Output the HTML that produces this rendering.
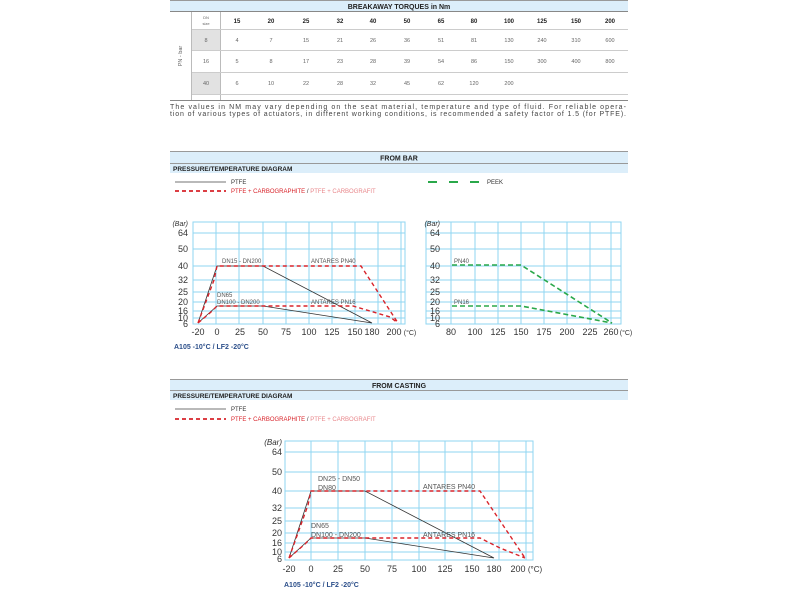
<!DOCTYPE html>
<html><head><meta charset="utf-8"><style>
html,body{margin:0;padding:0;background:#fff}
svg{display:block}
text{font-family:"Liberation Sans",sans-serif}
.g{stroke:#8fd6f2;stroke-width:1;fill:none}
.k{stroke:#333;stroke-width:0.8;fill:none}
.r{stroke:#d8232a;stroke-width:1.4;fill:none;stroke-dasharray:4,3}
.gr{stroke:#2aa84a;stroke-width:1.6;fill:none;stroke-dasharray:5,3}
.ax{font-size:9px;fill:#333}
.lb{font-size:6px;fill:#555}
.tn{font-size:5.5px;fill:#666;text-anchor:middle}
.th{font-size:6px;fill:#222;text-anchor:middle;font-weight:bold}
.hd{font-size:7px;font-weight:bold;fill:#222}
</style></head><body>
<svg width="800" height="600" viewBox="0 0 800 600" xmlns="http://www.w3.org/2000/svg">
<!-- TABLE -->
<line x1="170" y1="0.5" x2="628" y2="0.5" stroke="#999" stroke-width="1"/>
<rect x="170" y="1" width="458" height="10" fill="#dceefa"/>
<text x="399" y="9" class="hd" text-anchor="middle">BREAKAWAY TORQUES in Nm</text>
<line x1="170" y1="11.5" x2="628" y2="11.5" stroke="#888"/>
<rect x="192" y="29" width="28" height="21" fill="#e2e2e2"/>
<rect x="192" y="72" width="28" height="22" fill="#e2e2e2"/>
<line x1="191.5" y1="12" x2="191.5" y2="100" stroke="#bbb"/>
<line x1="220.5" y1="12" x2="220.5" y2="100" stroke="#bbb"/>
<line x1="192" y1="29.5" x2="628" y2="29.5" stroke="#ccc"/>
<line x1="192" y1="50.5" x2="628" y2="50.5" stroke="#ccc"/>
<line x1="192" y1="72.5" x2="628" y2="72.5" stroke="#ccc"/>
<line x1="192" y1="94.5" x2="628" y2="94.5" stroke="#ccc"/>
<line x1="170" y1="100.5" x2="628" y2="100.5" stroke="#888"/>
<text x="206" y="19" class="tn" style="font-size:4px">DN</text>
<text x="206" y="25" class="tn" style="font-size:4px">size</text>
<text transform="translate(182,56) rotate(-90)" class="tn">PN - bar</text>
<g class="th">
<text x="237" y="23">15</text><text x="271" y="23">20</text><text x="306" y="23">25</text><text x="340" y="23">32</text><text x="373" y="23">40</text><text x="407" y="23">50</text><text x="441" y="23">65</text><text x="474" y="23">80</text><text x="509" y="23">100</text><text x="542" y="23">125</text><text x="576" y="23">150</text><text x="610" y="23">200</text>
</g>
<g class="tn">
<text x="206" y="42">8</text><text x="237" y="42">4</text><text x="271" y="42">7</text><text x="306" y="42">15</text><text x="340" y="42">21</text><text x="373" y="42">26</text><text x="407" y="42">36</text><text x="441" y="42">51</text><text x="474" y="42">81</text><text x="509" y="42">130</text><text x="542" y="42">240</text><text x="576" y="42">310</text><text x="610" y="42">600</text>
<text x="206" y="63">16</text><text x="237" y="63">5</text><text x="271" y="63">8</text><text x="306" y="63">17</text><text x="340" y="63">23</text><text x="373" y="63">28</text><text x="407" y="63">39</text><text x="441" y="63">54</text><text x="474" y="63">86</text><text x="509" y="63">150</text><text x="542" y="63">300</text><text x="576" y="63">400</text><text x="610" y="63">800</text>
<text x="206" y="85">40</text><text x="237" y="85">6</text><text x="271" y="85">10</text><text x="306" y="85">22</text><text x="340" y="85">28</text><text x="373" y="85">32</text><text x="407" y="85">45</text><text x="441" y="85">62</text><text x="474" y="85">120</text><text x="509" y="85">200</text>
</g>
<text x="170" y="109" style="font-size:7px;fill:#444" textLength="456" lengthAdjust="spacing">The values in NM may vary depending on the seat material, temperature and type of fluid. For reliable opera-</text>
<text x="170" y="116" style="font-size:7px;fill:#444" textLength="456" lengthAdjust="spacing">tion of various types of actuators, in different working conditions, is recommended a safety factor of 1.5 (for PTFE).</text>

<!-- FROM BAR -->
<line x1="170" y1="151.5" x2="628" y2="151.5" stroke="#999"/>
<rect x="170" y="152" width="458" height="11" fill="#dceefa"/>
<text x="399" y="160.5" class="hd" text-anchor="middle">FROM BAR</text>
<line x1="170" y1="163.5" x2="628" y2="163.5" stroke="#999"/>
<rect x="170" y="164" width="458" height="9" fill="#dceefa"/>
<text x="173" y="171" class="hd" style="font-size:6.5px">PRESSURE/TEMPERATURE DIAGRAM</text>
<line x1="175" y1="182" x2="226" y2="182" stroke="#444" stroke-width="0.8"/>
<text x="231" y="184" style="font-size:6px;fill:#333">PTFE</text>
<line x1="175" y1="191" x2="226" y2="191" class="r" style="stroke-width:1.8"/>
<text x="231" y="193" style="font-size:6px;fill:#d8232a">PTFE + CARBOGRAPHITE <tspan fill="#333">/</tspan> <tspan fill="#e8878b">PTFE + CARBOGRAFIT</tspan></text>
<line x1="428" y1="182" x2="482" y2="182" class="gr" style="stroke-dasharray:9,12;stroke-width:2"/>
<text x="487" y="184" style="font-size:6px;fill:#333">PEEK</text>

<!-- chart1 grid -->
<g class="g">
<rect x="193" y="222" width="212" height="102"/>
<path d="M216 222V324M239 222V324M263 222V324M286 222V324M309 222V324M332 222V324M355 222V324M378 222V324M401 222V324"/>
<path d="M193 233H405M193 249H405M193 266H405M193 280H405M193 292H405M193 302H405M193 311H405M193 318H405"/>
</g>
<g class="ax" text-anchor="end">
<text x="188" y="226" style="font-style:italic;font-size:7px">(Bar)</text>
<text x="188" y="236">64</text><text x="188" y="252">50</text><text x="188" y="269">40</text><text x="188" y="283">32</text><text x="188" y="295">25</text><text x="188" y="305">20</text><text x="188" y="314">16</text><text x="188" y="321">10</text><text x="188" y="327">6</text>
</g>
<g class="ax" text-anchor="middle">
<text x="198" y="335">-20</text><text x="217" y="335">0</text><text x="240" y="335">25</text><text x="263" y="335">50</text><text x="286" y="335">75</text><text x="309" y="335">100</text><text x="332" y="335">125</text><text x="355" y="335">150</text><text x="372" y="335">180</text><text x="394" y="335">200</text><text x="410" y="335" style="font-size:7px">(°C)</text>
</g>
<path class="k" d="M198 323L217 266H263L372 323M198 323L217 306H263L372 323"/>
<path class="r" d="M198 323L214 280L217 266H361L398 323M198 323L211 312L217 306H353L390 317L398 323"/>
<g class="lb">
<text x="222" y="263">DN15 - DN200</text><text x="311" y="263">ANTARES PN40</text>
<text x="217" y="297">DN65</text><text x="217" y="304">DN100 - DN200</text><text x="311" y="304">ANTARES PN16</text>
</g>
<text x="174" y="349" style="font-size:7px;font-weight:bold;fill:#2c4f8a">A105 -10°C  /  LF2 -20°C</text>

<!-- chart2 -->
<g class="g">
<rect x="426" y="222" width="195" height="102"/>
<path d="M451 222V324M475 222V324M498 222V324M521 222V324M544 222V324M567 222V324M590 222V324M611 222V324"/>
<path d="M426 233H621M426 249H621M426 266H621M426 280H621M426 292H621M426 302H621M426 311H621M426 318H621"/>
</g>
<g class="ax" text-anchor="end">
<text x="440" y="226" style="font-style:italic;font-size:7px">(Bar)</text>
<text x="440" y="236">64</text><text x="440" y="252">50</text><text x="440" y="269">40</text><text x="440" y="283">32</text><text x="440" y="295">25</text><text x="440" y="305">20</text><text x="440" y="314">16</text><text x="440" y="321">10</text><text x="440" y="327">6</text>
</g>
<g class="ax" text-anchor="middle">
<text x="451" y="335">80</text><text x="475" y="335">100</text><text x="498" y="335">125</text><text x="521" y="335">150</text><text x="544" y="335">175</text><text x="567" y="335">200</text><text x="590" y="335">225</text><text x="611" y="335">260</text><text x="626" y="335" style="font-size:7px">(°C)</text>
</g>
<path class="gr" d="M452 265H521L612 323M452 306H521L612 323"/>
<text x="454" y="263" class="lb">PN40</text><text x="454" y="304" class="lb">PN16</text>

<!-- FROM CASTING -->
<line x1="170" y1="379.5" x2="628" y2="379.5" stroke="#999"/>
<rect x="170" y="380" width="458" height="10" fill="#dceefa"/>
<text x="399" y="388" class="hd" text-anchor="middle">FROM CASTING</text>
<line x1="170" y1="390.5" x2="628" y2="390.5" stroke="#999"/>
<rect x="170" y="391" width="458" height="9" fill="#dceefa"/>
<text x="173" y="398" class="hd" style="font-size:6.5px">PRESSURE/TEMPERATURE DIAGRAM</text>
<line x1="175" y1="409" x2="226" y2="409" stroke="#444" stroke-width="0.8"/>
<text x="231" y="411" style="font-size:6px;fill:#333">PTFE</text>
<line x1="175" y1="419" x2="226" y2="419" class="r" style="stroke-width:1.8"/>
<text x="231" y="421" style="font-size:6px;fill:#d8232a">PTFE + CARBOGRAPHITE <tspan fill="#333">/</tspan> <tspan fill="#e8878b">PTFE + CARBOGRAFIT</tspan></text>

<g class="g">
<rect x="285" y="441" width="248" height="119"/>
<path d="M311 441V560M338 441V560M365 441V560M392 441V560M419 441V560M445 441V560M472 441V560M499 441V560M526 441V560"/>
<path d="M285 452H533M285 472H533M285 491H533M285 508H533M285 521H533M285 533H533M285 543H533M285 552H533"/>
</g>
<g class="ax" text-anchor="end" style="font-size:9px">
<text x="282" y="445" style="font-style:italic;font-size:8px">(Bar)</text>
<text x="282" y="455">64</text><text x="282" y="475">50</text><text x="282" y="494">40</text><text x="282" y="511">32</text><text x="282" y="524">25</text><text x="282" y="536">20</text><text x="282" y="546">16</text><text x="282" y="555">10</text><text x="282" y="562">6</text>
</g>
<g class="ax" text-anchor="middle" style="font-size:9px">
<text x="289" y="572">-20</text><text x="311" y="572">0</text><text x="338" y="572">25</text><text x="365" y="572">50</text><text x="392" y="572">75</text><text x="419" y="572">100</text><text x="445" y="572">125</text><text x="472" y="572">150</text><text x="494" y="572">180</text><text x="518" y="572">200</text><text x="535" y="572" style="font-size:8px">(°C)</text>
</g>
<path class="k" d="M289 558L311 491H365L494 558M289 558L311 538H365L494 558"/>
<path class="r" d="M289 558L308 505L311 491H480L525 558M289 558L305 544L311 538H480L500 548L525 558"/>
<g class="lb" style="font-size:7px">
<text x="318" y="481">DN25 - DN50</text><text x="318" y="490">DN80</text><text x="423" y="489">ANTARES PN40</text>
<text x="311" y="528">DN65</text><text x="311" y="537">DN100 - DN200</text><text x="423" y="537">ANTARES PN16</text>
</g>
<text x="284" y="587" style="font-size:7px;font-weight:bold;fill:#2c4f8a">A105 -10°C  /  LF2 -20°C</text>
</svg>
</body></html>
